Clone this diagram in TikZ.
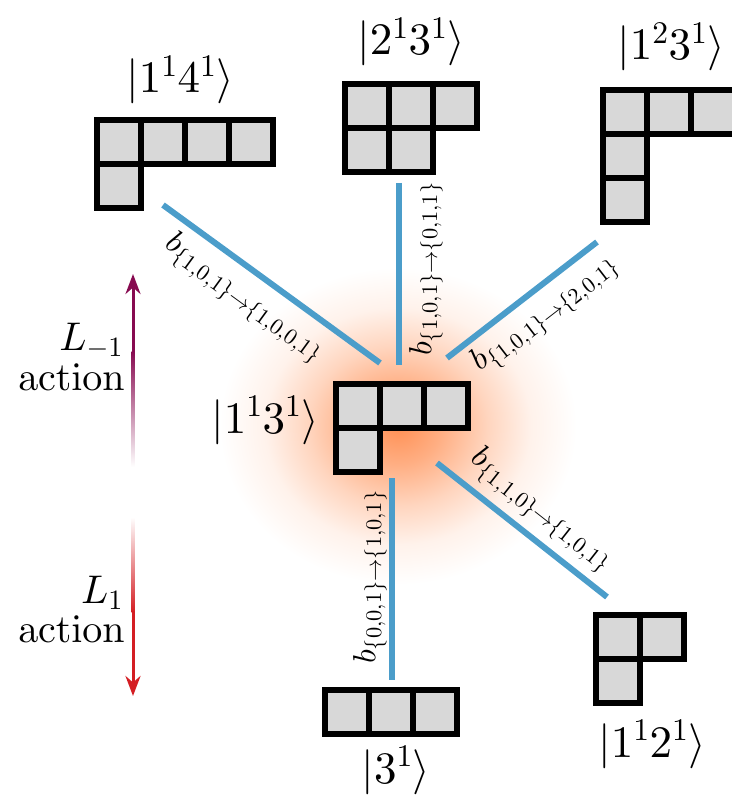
\documentclass[tikz,border=0pt]{standalone}
\DeclareFontShape{OT1}{cmr}{m}{n}{<->cmr10}{}
\DeclareFontShape{OML}{cmm}{m}{it}{<->cmmi10}{}
\DeclareFontShape{OMS}{cmsy}{m}{n}{<->cmsy10}{}
\DeclareFontShape{OMX}{cmex}{m}{n}{<->cmex10}{}
\usetikzlibrary{arrows.meta}
\definecolor{cellgray}{RGB}{216,216,216}
\definecolor{connblue}{RGB}{75,157,202}
\definecolor{glowc}{RGB}{255,125,55}
\definecolor{purp}{RGB}{135,10,80}
\definecolor{redarr}{RGB}{212,30,35}
\pgfdeclareradialshading{glow}{\pgfpoint{0bp}{0bp}}{color(0bp)=(glowc!85!white); color(6bp)=(glowc!62!white); color(12.5bp)=(glowc!32!white); color(18.5bp)=(glowc!10!white); color(24.8bp)=(white); color(50bp)=(white)}
\tikzset{
  cell/.style={draw=black, fill=cellgray, line width=6pt},
  conn/.style={draw=connblue, line width=6pt},
  ket/.style={font=\fontsize{45}{50}\selectfont, inner sep=0pt, anchor=base},
  blab/.style={font=\fontsize{32}{36}\selectfont, inner sep=0pt},
  side/.style={font=\fontsize{40}{40}\selectfont, inner sep=0pt, align=right, anchor=base east},
}
\begin{document}
\begin{tikzpicture}[x=1pt, y=-1pt]
\useasboundingbox (0,0) rectangle (731,799);
% glow
\shade[shading=glow] (398,426) ellipse [x radius=180pt, y radius=160pt];
% Young diagrams
\begin{scope}[shift={(96.5,120.5)}]
  \foreach \i in {0,1,2,3} \draw[cell] (44*\i,0) rectangle ++(44,44);
  \draw[cell] (0,44) rectangle ++(44,44);
\end{scope}
\begin{scope}[shift={(344.5,84.5)}]
  \foreach \i in {0,1,2} \draw[cell] (44*\i,0) rectangle ++(44,44);
  \foreach \i in {0,1} \draw[cell] (44*\i,44) rectangle ++(44,44);
\end{scope}
\begin{scope}[shift={(602.5,90.5)}]
  \foreach \i in {0,1,2} \draw[cell] (44*\i,0) rectangle ++(44,44);
  \draw[cell] (0,44) rectangle ++(44,44);
  \draw[cell] (0,88) rectangle ++(44,44);
\end{scope}
\begin{scope}[shift={(335.5,383.5)}]
  \foreach \i in {0,1,2} \draw[cell] (44*\i,0) rectangle ++(44,44);
  \draw[cell] (0,44) rectangle ++(44,44);
\end{scope}
\begin{scope}[shift={(324.5,689.5)}]
  \foreach \i in {0,1,2} \draw[cell] (44*\i,0) rectangle ++(44,44);
\end{scope}
\begin{scope}[shift={(595.5,614.5)}]
  \foreach \i in {0,1} \draw[cell] (44*\i,0) rectangle ++(44,44);
  \draw[cell] (0,44) rectangle ++(44,44);
\end{scope}
% kets
\node[ket] (k14) at (180,93) {$|1^1 4^1\rangle$};
\node[ket] (k23) at (411,55) {$|2^1 3^1\rangle$};
\node[ket] (k123) at (671,60) {$|1^2 3^1\rangle$};
\node[ket] (k13) at (265,433) {$|1^1 3^1\rangle$};
\node[ket] (k3) at (396,783) {$|3^1\rangle$};
\node[ket] (k12) at (652,757) {$|1^1 2^1\rangle$};
% connector ends
\coordinate (c1a) at (163,205); \coordinate (c1b) at (380,363);
\coordinate (c2a) at (399,183); \coordinate (c2b) at (399,365);
\coordinate (c3a) at (447,358); \coordinate (c3b) at (597,242);
\coordinate (c4a) at (437,463); \coordinate (c4b) at (607,597);
\coordinate (c5a) at (392,478); \coordinate (c5b) at (392,680);
\draw[conn] (c1a) -- (c1b);
\draw[conn] (c2a) -- (c2b);
\draw[conn] (c3a) -- (c3b);
\draw[conn] (c4a) -- (c4b);
\draw[conn] (c5a) -- (c5b);
% connector labels
\node[blab, rotate=-36.1] (l1) at (244,298) {$b_{\{1,0,1\}\to\{1,0,0,1\}}$};
\node[blab, rotate=90] (l2) at (426,269) {$b_{\{1,0,1\}\to\{0,1,1\}}$};
\node[blab, rotate=37.7] (l3) at (545,314) {$b_{\{1,0,1\}\to\{2,0,1\}}$};
\node[blab, rotate=-38.2] (l4) at (541,510) {$b_{\{1,1,0\}\to\{1,0,1\}}$};
\node[blab, rotate=90] (l5) at (370,577) {$b_{\{0,0,1\}\to\{1,0,1\}}$};
% left arrows
\coordinate (tA) at (133,274); \coordinate (tB) at (133,300);
\coordinate (bA) at (133,696); \coordinate (bB) at (133,670);
\fill[purp] (131.5,295) rectangle (134.5,352);
\shade[top color=purp, bottom color=white] (131.5,351) rectangle (134.5,467);
\draw[purp, line width=3pt, -{Stealth[length=20pt,width=15pt]}] (tB) -- (tA);
\shade[top color=white, bottom color=redarr] (131.5,517) rectangle (134.5,612);
\fill[redarr] (131.5,611) rectangle (134.5,675);
\draw[redarr, line width=3pt, -{Stealth[length=20pt,width=15pt]}] (bB) -- (bA);
\node[side] (lm1) at (123,350) {$L_{-1}$};
\node[side] (am1) at (125,390) {$\mathrm{action}$};
\node[side] (lp1) at (123,603) {$L_{1}$};
\node[side] (ap1) at (125,642) {$\mathrm{action}$};
\end{tikzpicture}
\end{document}
